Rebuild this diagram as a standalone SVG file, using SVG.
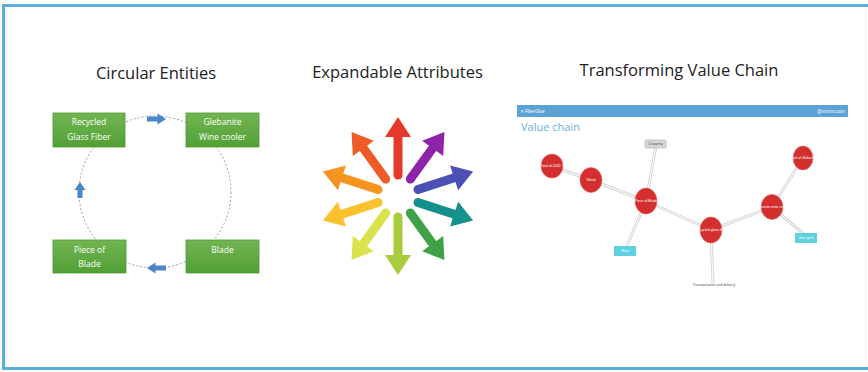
<svg xmlns="http://www.w3.org/2000/svg" width="868" height="372" viewBox="0 0 868 372">
<defs>
<linearGradient id="gg" x1="0" y1="0" x2="0" y2="1">
<stop offset="0" stop-color="#72b552"/>
<stop offset="1" stop-color="#52a035"/>
</linearGradient>
<g id="arrowShape">
<line x1="0" y1="-21" x2="0" y2="-60" stroke-width="9" stroke-linecap="round"/>
<polygon points="-13,-59 0,-79 13,-59" stroke="none"/>
</g>
</defs>
<style>
.title{font-family:"Open Sans","Liberation Sans",sans-serif;font-size:16.5px;fill:#222;text-anchor:middle}
.box{fill:url(#gg);stroke:#4f9a33;stroke-width:0.8}
.bt{font-family:"Open Sans","Liberation Sans",sans-serif;font-size:8.5px;fill:#fff;text-anchor:middle}
.ba{fill:#4a86c8}
.edge{stroke:#d6d6d6;stroke-width:3;fill:none}
.edgein{stroke:#fff;stroke-width:1;fill:none}
.rn{fill:#d32f2f;stroke:#e86a6a;stroke-width:0.6}
.nt{font-family:"Liberation Sans",sans-serif;font-size:3.5px;fill:#fff;text-anchor:middle}
.st{font-family:"Liberation Sans",sans-serif;font-size:3.5px;fill:#555;text-anchor:middle}
</style>
<rect x="0" y="0" width="868" height="372" fill="#fff"/>
<g id="frame" fill="none">
<path d="M3.5,370 L3.5,5.5 L868,5.5" stroke="#5aafd8" stroke-width="3"/>
<path d="M3.5,368.5 L868,368.5" stroke="#5aafd8" stroke-width="3"/>
<path d="M865.5,7 L865.5,367" stroke="#e6f1f8" stroke-width="1"/>
</g>

<!-- Circular Entities -->
<text class="title" x="156" y="79">Circular Entities</text>
<g id="connectors">
<circle cx="155" cy="192" r="76" fill="none" stroke="#8b9fc2" stroke-width="1" stroke-dasharray="2 2"/>
<path class="ba" d="M147,116.5 L157.5,116.5 L157.5,113.5 L166,119 L157.5,124.5 L157.5,121.5 L147,121.5 Z"/>
<path class="ba" d="M77.5,198 L77.5,190 L74.5,190 L80,182 L85.5,190 L82.5,190 L82.5,198 Z"/>
<path class="ba" d="M166,265.5 L155.5,265.5 L155.5,262.5 L147,268 L155.5,273.5 L155.5,270.5 L166,270.5 Z"/>
</g>
<g id="n-recycled">
<rect class="box" x="53" y="113" width="72" height="34"/>
<text class="bt" x="89" y="125">Recycled</text>
<text class="bt" x="89" y="140">Glass Fiber</text>
</g>
<g id="n-glebanite">
<rect class="box" x="186" y="113" width="73" height="34"/>
<text class="bt" x="222.5" y="125">Glebanite</text>
<text class="bt" x="222.5" y="140">Wine cooler</text>
</g>
<g id="n-piece">
<rect class="box" x="53" y="240" width="73" height="33"/>
<text class="bt" x="89.5" y="253">Piece of</text>
<text class="bt" x="89.5" y="267">Blade</text>
</g>
<g id="n-blade">
<rect class="box" x="186" y="240" width="73" height="33"/>
<text class="bt" x="222.5" y="253">Blade</text>
</g>

<!-- Expandable Attributes -->
<text class="title" x="397.5" y="78">Expandable Attributes</text>
<g id="pinwheel" transform="translate(398,196)">
<use href="#arrowShape" transform="rotate(0)" fill="#e53a2a" stroke="#e53a2a"/>
<use href="#arrowShape" transform="rotate(36)" fill="#8e24aa" stroke="#8e24aa"/>
<use href="#arrowShape" transform="rotate(72)" fill="#4b4fb6" stroke="#4b4fb6"/>
<use href="#arrowShape" transform="rotate(108)" fill="#15918c" stroke="#15918c"/>
<use href="#arrowShape" transform="rotate(144)" fill="#41a148" stroke="#41a148"/>
<use href="#arrowShape" transform="rotate(180)" fill="#a8cc3c" stroke="#a8cc3c"/>
<use href="#arrowShape" transform="rotate(216)" fill="#dbe34c" stroke="#dbe34c"/>
<use href="#arrowShape" transform="rotate(252)" fill="#fbc12e" stroke="#fbc12e"/>
<use href="#arrowShape" transform="rotate(288)" fill="#f7941f" stroke="#f7941f"/>
<use href="#arrowShape" transform="rotate(324)" fill="#ef5b27" stroke="#ef5b27"/>
</g>

<!-- Transforming Value Chain -->
<text class="title" x="679" y="76">Transforming Value Chain</text>
<g id="app">
<rect x="517" y="105" width="331" height="12" fill="#5ba3d6"/>
<text x="521" y="113" font-family="Liberation Sans,sans-serif" font-size="4.5" fill="#fff">≡  FiberGlue</text>
<text x="845" y="113" font-family="Liberation Sans,sans-serif" font-size="4.5" fill="#fff" text-anchor="end">@xxxxxx.com</text>
<text x="521" y="131" font-family="Open Sans,Liberation Sans,sans-serif" font-size="11" fill="#6aaee0">Value chain</text>
</g>
<g id="vc-edges">
<path class="edge" d="M552,166 L591,180 M591,180 L646,201 M646,201 L656,146 M646,201 L626,248 M646,201 L711,230 M711,230 L772,207 M772,207 L803,158 M772,207 L806,236 M711,230 L713,283"/>
<path class="edgein" d="M552,166 L591,180 M591,180 L646,201 M646,201 L656,146 M646,201 L626,248 M646,201 L711,230 M711,230 L772,207 M772,207 L803,158 M772,207 L806,236 M711,230 L713,283"/>
</g>
<g id="vc-a"><ellipse class="rn" cx="552" cy="166" rx="11" ry="12"/><text class="nt" x="552" y="167">Total of 2020 ?</text></g>
<g id="vc-b"><ellipse class="rn" cx="591" cy="180" rx="11" ry="12.5"/><text class="nt" x="591" y="181">Wood</text></g>
<g id="vc-c"><ellipse class="rn" cx="646" cy="201" rx="11" ry="13"/><text class="nt" x="646" y="202">Piece of Blade</text></g>
<g id="vc-d"><ellipse class="rn" cx="711" cy="230" rx="11" ry="13"/><text class="nt" x="711" y="231">Recycled glass fiber</text></g>
<g id="vc-e"><ellipse class="rn" cx="772" cy="207" rx="11" ry="12.5"/><text class="nt" x="772" y="208">Glebanite wine cooler</text></g>
<g id="vc-f"><ellipse class="rn" cx="803" cy="158" rx="10" ry="12"/><text class="nt" x="803" y="159">Total of Glebanite</text></g>
<g id="vc-chop"><rect x="645" y="140" width="21" height="8" rx="1.5" fill="#d9d9d9" stroke="#9a9a9a" stroke-width="0.5"/><text class="st" x="655.5" y="145.2">Chopping</text></g>
<g id="vc-cyan1"><rect x="614" y="246" width="22" height="10" fill="#5fd0e0"/><text class="nt" x="625" y="252">Heat</text></g>
<g id="vc-cyan2"><rect x="795" y="233" width="22" height="10" fill="#5fd0e0"/><text class="nt" x="806" y="239">Use cycle</text></g>
<g id="vc-bottom"><text class="st" x="714" y="286">Transportation and delivery</text></g>
</svg>
